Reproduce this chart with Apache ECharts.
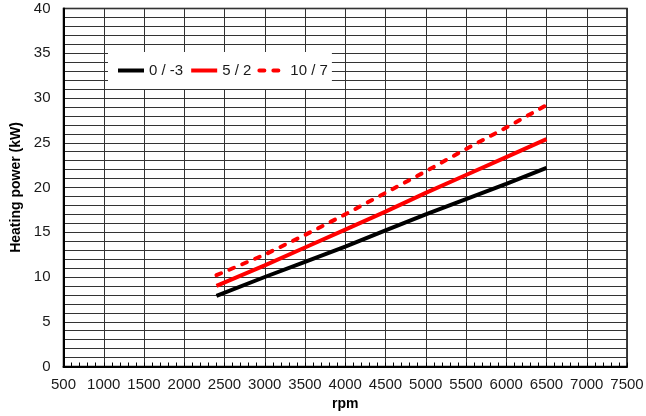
<!DOCTYPE html>
<html>
<head>
<meta charset="utf-8">
<script src="https://cdn.jsdelivr.net/npm/echarts@6/dist/echarts.min.js"></script>
<style>
html,body{margin:0;padding:0;background:#fff;}
#chart{width:646px;height:416px;}
</style>
</head>
<body>
<div id="chart"></div>
<script>
const rpm = [2400, 3000, 3500, 4000, 4500, 5000, 5500, 6000, 6500];
const power_0_m3 = [7.9, 10.0, 11.7, 13.4, 15.2, 17.0, 18.7, 20.4, 22.2];
const power_5_2 = [9.0, 11.3, 13.3, 15.3, 17.3, 19.4, 21.4, 23.4, 25.4];
const power_10_7 = [10.2, 12.5, 14.7, 17.0, 19.4, 21.8, 24.3, 26.7, 29.2];
const seriesNames = ['0 / -3', '5 / 2', '10 / 7'];
const xName = 'rpm';
const yName = 'Heating power (kW)';

const pairs = (ys) => rpm.map((x, i) => [x, ys[i]]);
const font = 'Liberation Sans, Arial, sans-serif';
const gridColor = '#333';

const chart = echarts.init(document.getElementById('chart'), null, {renderer: 'canvas'});
chart.setOption({
  animation: false,
  backgroundColor: '#fff',
  grid: {
    left: 63.5, right: 19, top: 8.5, bottom: 49.5,
    show: true, borderColor: '#000', borderWidth: 1.5,
    containLabel: false, outerBoundsMode: 'none'
  },
  legend: {
    left: 108, top: 52,
    data: seriesNames,
    backgroundColor: '#fff',
    padding: [11, 4, 11, 8],
    itemGap: 6,
    itemWidth: 26, itemHeight: 14,
    itemStyle: {opacity: 0},
    lineStyle: {width: 4},
    textStyle: {fontFamily: font, fontSize: 15, color: '#1a1a1a'}
  },
  xAxis: {
    type: 'value', min: 500, max: 7500, interval: 500,
    name: xName, nameLocation: 'middle', nameGap: 31,
    nameTextStyle: {fontFamily: font, fontSize: 14, fontWeight: 'bold', color: '#000'},
    axisLine: {show: true, lineStyle: {color: '#000', width: 2}},
    axisTick: {show: true, inside: true, length: 4, lineStyle: {color: '#000'}},
    minorTick: {show: true, splitNumber: 5, length: 4, lineStyle: {color: '#000'}},
    axisLabel: {fontFamily: font, fontSize: 15, color: '#1a1a1a', margin: 11,
                formatter: (v) => String(v)},
    splitLine: {show: true, lineStyle: {color: gridColor, width: 1}}
  },
  yAxis: {
    type: 'value', min: 0, max: 40, interval: 5,
    name: yName, nameLocation: 'middle', nameGap: 38,
    nameTextStyle: {fontFamily: font, fontSize: 14, fontWeight: 'bold', color: '#000'},
    axisLine: {show: true, lineStyle: {color: '#000', width: 2}},
    axisTick: {show: false},
    minorTick: {show: false, splitNumber: 5},
    axisLabel: {fontFamily: font, fontSize: 15, color: '#1a1a1a', margin: 13,
                formatter: (v) => String(v)},
    splitLine: {show: true, lineStyle: {color: gridColor, width: 1}},
    minorSplitLine: {show: true, lineStyle: {color: gridColor, width: 1}}
  },
  series: [
    {name: seriesNames[0], type: 'line', data: pairs(power_0_m3), symbol: 'none',
     lineStyle: {color: '#000', width: 4}, itemStyle: {color: '#000'}},
    {name: seriesNames[1], type: 'line', data: pairs(power_5_2), symbol: 'none',
     lineStyle: {color: '#ff0000', width: 4}, itemStyle: {color: '#ff0000'}},
    {name: seriesNames[2], type: 'line', data: pairs(power_10_7), symbol: 'none',
     lineStyle: {color: '#ff0000', width: 4, type: [5, 9], cap: 'round'}, itemStyle: {color: '#ff0000'}}
  ]
});
</script>
</body>
</html>
